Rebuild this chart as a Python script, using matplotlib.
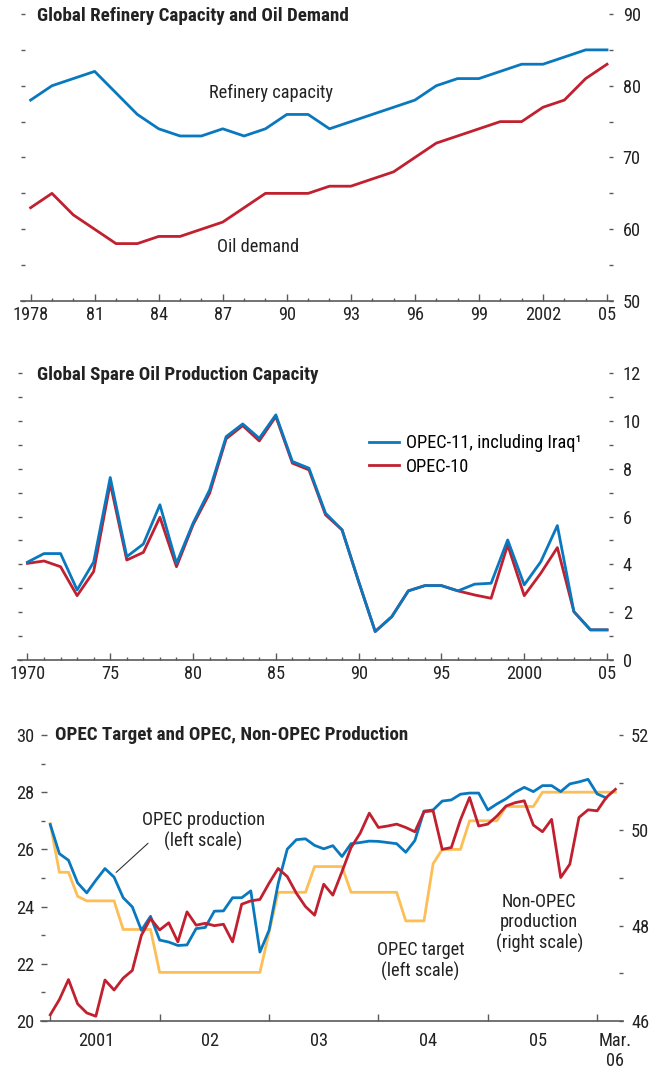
"""
Three stacked panels: refinery capacity vs oil demand, spare capacity,
and OPEC target vs OPEC / non-OPEC production.
"""

import matplotlib

matplotlib.use("Agg")
import matplotlib.pyplot as plt
from matplotlib import font_manager
import numpy as np

_names = sorted({f.name for f in font_manager.fontManager.ttflist})
_cands = ["Liberation Sans Narrow", "Roboto Condensed", "Open Sans Condensed",
          "DejaVu Sans Condensed", "Noto Sans Condensed", "Inter Tight",
          "Liberation Sans"]
FONT = next(c for c in _cands if c in _names)
plt.rcParams["font.family"] = [FONT, "DejaVu Sans"]

BLUE = "#0a78be"
RED = "#c0202f"
YELLOW = "#fdbe55"
GREY = "#5a5a5a"
TXT = "#222222"

# ---- panel 1: refinery capacity and oil demand (mb/d)
YEARS_TOP = list(range(1978, 2006))
REFINERY = [78, 80, 81, 82, 79, 76, 74, 73, 73, 74, 73, 74, 76, 76,
            74, 75, 76, 77, 78, 80, 81, 81, 82, 83, 83, 84, 85, 85]
DEMAND = [63, 65, 62, 60, 58, 58, 59, 59, 60, 61, 63, 65, 65, 65,
          66, 66, 67, 68, 70, 72, 73, 74, 75, 75, 77, 78, 81, 83]
TOP_XLABELS = ["1978", "81", "84", "87", "90", "93", "96", "99", "2002", "05"]

# ---- panel 2: spare capacity (mb/d)
YEARS_MID = list(range(1970, 2006))
OPEC11 = [4.09, 4.45, 4.45, 2.93, 4.10, 7.63, 4.32, 4.85, 6.49, 4.04,
          5.72, 7.11, 9.34, 9.87, 9.27, 10.25, 8.30, 8.02, 6.14, 5.44,
          3.28, 1.19, 1.81, 2.89, 3.11, 3.11, 2.89, 3.17, 3.21, 5.02,
          3.14, 4.11, 5.62, 2.02, 1.26, 1.26]
OPEC10 = [4.04, 4.14, 3.90, 2.69, 3.70, 7.39, 4.18, 4.50, 5.97, 3.90,
          5.65, 6.97, 9.25, 9.80, 9.16, 10.18, 8.23, 7.95, 6.07, 5.44,
          3.28, 1.19, 1.81, 2.89, 3.11, 3.11, 2.89, 2.72, 2.58, 4.81,
          2.69, 3.63, 4.70, 2.02, 1.26, 1.26]
MID_XLABELS = ["1970", "75", "80", "85", "90", "95", "2000", "05"]

# ---- panel 3: monthly, Jan 2001 .. Mar 2006 (month index 0..62)
OPEC_PROD = [26.87, 25.85, 25.62, 24.83, 24.48, 24.92, 25.33, 25.03, 24.31, 23.99,
             23.17, 23.66, 22.83, 22.76, 22.64, 22.66, 23.23, 23.27, 23.84, 23.85,
             24.31, 24.31, 24.55, 22.41, 23.17, 24.80, 26.01, 26.34, 26.37, 26.14,
             26.02, 26.13, 25.75, 26.20, 26.24, 26.29, 26.28, 26.24, 26.20, 25.90,
             26.31, 27.34, 27.38, 27.69, 27.73, 27.93, 27.97, 27.97, 27.38, 27.59,
             27.77, 28.00, 28.17, 28.02, 28.23, 28.23, 28.02, 28.29, 28.36, 28.45,
             27.94, 27.80]
OPEC_TARGET = [26.9, 25.2, 25.2, 24.36, 24.2, 24.2, 24.2, 24.2, 23.2, 23.2,
               23.2, 23.2, 21.7, 21.7, 21.7, 21.7, 21.7, 21.7, 21.7, 21.7,
               21.7, 21.7, 21.7, 21.7, 23.1, 24.5, 24.5, 24.5, 24.5, 25.4,
               25.4, 25.4, 25.4, 24.5, 24.5, 24.5, 24.5, 24.5, 24.5, 23.5,
               23.5, 23.5, 25.5, 26.0, 26.0, 26.0, 27.0, 27.0, 27.0, 27.0,
               27.5, 27.5, 27.5, 27.5, 28.0, 28.0, 28.0, 28.0, 28.0, 28.0,
               28.0, 28.0, 28.0]
NON_OPEC = [46.13, 46.45, 46.87, 46.36, 46.17, 46.10, 46.86, 46.65, 46.90, 47.06,
            47.80, 48.15, 47.91, 48.06, 47.66, 48.29, 48.01, 48.05, 48.00, 48.03,
            47.66, 48.45, 48.52, 48.55, 48.89, 49.20, 49.03, 48.68, 48.40, 48.22,
            48.87, 48.64, 49.13, 49.64, 49.94, 50.36, 50.06, 50.09, 50.13, 50.06,
            49.97, 50.39, 50.41, 49.60, 49.64, 50.22, 50.69, 50.09, 50.13, 50.30,
            50.51, 50.58, 50.62, 50.11, 49.97, 50.23, 49.01, 49.29, 50.27, 50.43,
            50.41, 50.69, 50.86]
BOT_XLABELS = ["2001", "02", "03", "04", "05", "Mar.\n06"]

W, H = 652, 1072
FS = 13.2
FS_TITLE = 13.7
LW = 2.0

fig = plt.figure(figsize=(W / 100, H / 100), dpi=100)


def add_axes_px(left, right, top, bottom):
    return fig.add_axes([left / W, 1 - bottom / H, (right - left) / W, (bottom - top) / H])


def style(ax):
    for side in ("left", "right", "top"):
        ax.spines[side].set_visible(False)
    ax.spines["bottom"].set_color(GREY)
    ax.spines["bottom"].set_linewidth(1.2)
    ax.tick_params(axis="x", which="both", direction="in", colors=GREY,
                   labelcolor=TXT, labelsize=FS, width=1.0, pad=3.5)
    ax.tick_params(axis="x", which="major", length=5)
    ax.tick_params(axis="x", which="minor", length=2.5)
    ax.tick_params(axis="y", which="both", direction="in", colors=GREY,
                   labelcolor=TXT, labelsize=FS, width=1.0, length=3,
                   left=True, right=True, labelleft=False, labelright=True, pad=7)
    ax.set_facecolor("none")


def title(x, y, s):
    fig.text(x / W, 1 - y / H, s, ha="left", va="center", fontsize=FS_TITLE,
             fontweight="bold", color=TXT)


# ---------- panel 1
ax1 = add_axes_px(21, 613, 14, 301)
style(ax1)
ax1.plot(YEARS_TOP, DEMAND, color=RED, lw=LW)
ax1.plot(YEARS_TOP, REFINERY, color=BLUE, lw=LW)
ax1.set_xlim(1977.55, 2005.28)
ax1.set_ylim(50, 90)
ax1.set_xticks(YEARS_TOP[::3])
ax1.set_xticklabels(TOP_XLABELS)
ax1.set_xticks(YEARS_TOP, minor=True)
ax1.set_yticks(np.arange(50, 91, 10))
ax1.set_yticks(np.arange(55, 90, 10), minor=True)
ax1.text(1989.26, 79.0, "Refinery capacity", ha="center", va="center",
         fontsize=FS, color=TXT)
ax1.text(1988.65, 57.5, "Oil demand", ha="center", va="center",
         fontsize=FS, color=TXT)
title(37, 16, "Global Refinery Capacity and Oil Demand")

# ---------- panel 2
ax2 = add_axes_px(18, 613, 373, 660)
style(ax2)
ax2.plot(YEARS_MID, OPEC10, color=RED, lw=LW, label="OPEC-10")
ax2.plot(YEARS_MID, OPEC11, color=BLUE, lw=LW, label="OPEC-11, including Iraq¹")
ax2.set_xlim(1969.43, 2005.36)
ax2.set_ylim(0, 12)
ax2.set_xticks(YEARS_MID[::5])
ax2.set_xticklabels(MID_XLABELS)
ax2.set_xticks(YEARS_MID, minor=True)
ax2.set_yticks(np.arange(0, 13, 2))
ax2.set_yticks(np.arange(1, 12, 2), minor=True)
handles, labels = ax2.get_legend_handles_labels()
ax2.legend(handles[::-1], labels[::-1], loc="upper left",
           bbox_to_anchor=(369 / W, 1 - 434 / H), bbox_transform=fig.transFigure,
           frameon=False, fontsize=FS, handlelength=1.65, handletextpad=0.35,
           labelspacing=0.3, borderaxespad=0, borderpad=0)
title(37, 375, "Global Spare Oil Production Capacity")

# ---------- panel 3
ax3 = add_axes_px(40.7, 622.7, 735, 1021)
style(ax3)
months = np.arange(len(OPEC_TARGET))
ax3.plot(months, OPEC_TARGET, color=YELLOW, lw=LW)
ax3.plot(months[:len(OPEC_PROD)], OPEC_PROD, color=BLUE, lw=LW)
ax3.set_xlim(-1.05, 62.8)
ax3.set_ylim(20, 30)
ax3.set_xticks(np.arange(0, 61, 12))
ax3.set_xticklabels([])
ax3.set_xticks([5.0, 17.5, 29.5, 41.5, 53.5, 62], minor=True)
ax3.set_xticklabels(BOT_XLABELS, minor=True)
ax3.tick_params(axis="x", which="minor", length=0, pad=8)
ax3.tick_params(axis="x", which="major", length=5)
ax3.tick_params(axis="y", which="both", left=True, right=False,
                labelleft=True, labelright=False, pad=4.5)
ax3.tick_params(axis="y", which="major", length=4.5)
ax3.set_yticks(np.arange(20, 31, 2))
ax3.set_yticks(np.arange(21, 30, 2), minor=True)
for lab in ax3.get_xticklabels(minor=True):
    lab.set_multialignment("center")
    lab.set_linespacing(1.1)

ax3r = ax3.twinx()
for side in ("left", "right", "top", "bottom"):
    ax3r.spines[side].set_visible(False)
ax3r.plot(months, NON_OPEC, color=RED, lw=LW)
ax3r.set_ylim(46, 52)
ax3r.set_yticks(np.arange(46, 53, 2))
ax3r.set_yticks(np.arange(47, 52, 2), minor=True)
ax3r.tick_params(axis="y", which="both", direction="in", colors=GREY,
                 labelcolor=TXT, labelsize=FS, width=1.0, length=3, pad=6)

ax3.text(16.8, 26.64, "OPEC production\n(left scale)", ha="center", va="center",
         fontsize=FS, color=TXT, linespacing=1.15)
ax3.annotate("", xy=(7.0, 25.13), xytext=(10.95, 26.28),
             arrowprops=dict(arrowstyle="-", color="#333333", lw=0.8))
ax3.text(40.6, 22.1, "OPEC target\n(left scale)", ha="center", va="center",
         fontsize=FS, color=TXT, linespacing=1.15)
ax3.text(53.65, 23.43, "Non-OPEC\nproduction\n(right scale)", ha="center",
         va="center", fontsize=FS, color=TXT, linespacing=1.15)
title(55, 735, "OPEC Target and OPEC, Non-OPEC Production")

fig.savefig("out.png", dpi=100)
